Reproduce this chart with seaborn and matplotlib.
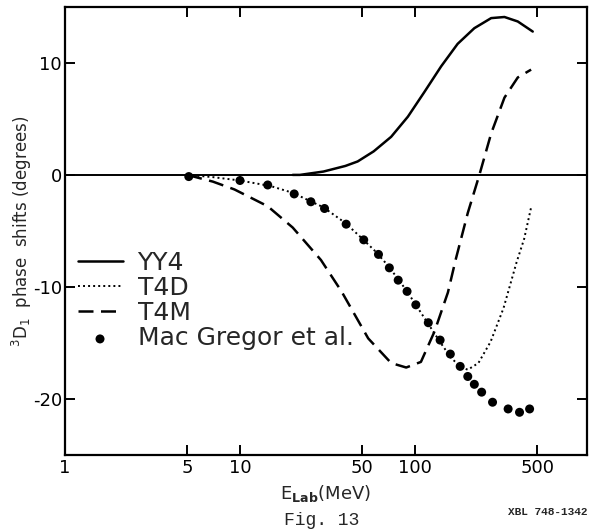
import numpy as np
import pandas as pd
import matplotlib
matplotlib.use('Agg')
import matplotlib.pyplot as plt
import seaborn as sns

# YY4 (solid)
yy4_e = [20, 22, 30, 40, 47, 58, 73, 91, 113, 141, 175, 218, 272, 324, 386, 470]
yy4_d = [0.0, 0.0, 0.3, 0.8, 1.2, 2.1, 3.4, 5.2, 7.4, 9.7, 11.7, 13.1, 14.0, 14.1, 13.7, 12.8]

# T4D (dotted)
t4d_e = [5, 7, 10, 15, 20, 30, 40, 50, 60, 70, 80, 90, 100, 120, 140, 160, 180, 200,
         230, 270, 320, 380, 420, 460]
t4d_d = [0.0, -0.2, -0.5, -1.0, -1.6, -2.9, -4.3, -5.7, -6.9, -8.1, -9.3, -10.4, -11.5,
         -13.4, -15.0, -16.3, -17.1, -17.4, -16.8, -14.9, -11.9, -7.8, -5.7, -2.9]

# T4M (dashed)
t4m_e = [5, 7, 9.3, 14.4, 20, 29, 38, 54, 73, 89, 108, 129, 154, 171, 200, 233, 272,
         324, 386, 460]
t4m_d = [0.0, -0.6, -1.3, -2.8, -4.7, -7.6, -10.4, -14.6, -16.8, -17.2, -16.7, -14.0,
         -10.5, -7.5, -3.4, 0.0, 3.7, 6.9, 8.7, 9.4]

# Mac Gregor et al. (points)
mg_e = [5.1, 10, 14.4, 20.4, 25.4, 30.4, 40.4, 50.9, 61.8, 71.3, 80.1, 90, 101, 119,
        139, 159, 181, 200, 218, 240, 277, 340, 395, 451]
mg_d = [-0.15, -0.5, -0.9, -1.7, -2.4, -3.0, -4.4, -5.8, -7.1, -8.3, -9.4, -10.4, -11.6,
        -13.2, -14.75, -16.0, -17.1, -18.0, -18.7, -19.4, -20.3, -20.9, -21.2, -20.9]

xticks = [1, 5, 10, 50, 100, 500]
xticklabels = ['1', '5', '10', '50', '100', '500']
yticks = [-20, -10, 0, 10]

sns.set_style('ticks')
plt.rcParams['font.family'] = ['DejaVu Sans']
plt.rcParams['axes.unicode_minus'] = False

fig = plt.figure(figsize=(5.9, 5.32), dpi=100)
ax = fig.add_axes([0.110, 0.145, 0.885, 0.842])

ax.axhline(0, color='black', lw=1.4, zorder=1)

sns.lineplot(x=yy4_e, y=yy4_d, ax=ax, color='black', lw=1.8, sort=False,
             label='YY4')
sns.lineplot(x=t4d_e, y=t4d_d, ax=ax, color='black', lw=1.4, sort=False,
             linestyle=(0, (1, 1.6)), label='T4D')
sns.lineplot(x=t4m_e, y=t4m_d, ax=ax, color='black', lw=1.8, sort=False,
             linestyle=(0, (6, 3)), label='T4M')
sns.scatterplot(x=mg_e, y=mg_d, ax=ax, color='black', s=42, edgecolor='none',
                label='Mac Gregor et al.', zorder=3)

ax.set_xscale('log')
ax.set_xlim(1, 960)
ax.set_ylim(-25, 15)
ax.set_xticks(xticks)
ax.set_xticklabels(xticklabels)
ax.xaxis.set_minor_locator(matplotlib.ticker.NullLocator())
ax.set_yticks(yticks)
ax.tick_params(direction='in', length=7, width=1.4, labelsize=13, pad=3,
               top=True, right=True, colors='black')
ax.tick_params(axis='y', pad=2)
for s in ax.spines.values():
    s.set_linewidth(1.6)
    s.set_color('black')

ax.set_xlabel(r'E$_{\mathbf{Lab}}$(MeV)', fontsize=13, labelpad=4)
ax.set_ylabel(r'$^3$D$_1$  phase  shifts (degrees)', fontsize=12, labelpad=-1)

ax.legend(loc='upper left', bbox_to_anchor=(0.005, 0.478), frameon=False,
          fontsize=18, handlelength=1.8, handletextpad=0.6, labelspacing=0.05,
          borderaxespad=0.2, borderpad=0.2)

fig.text(0.545, 0.022, 'Fig. 13', family='Liberation Mono', fontsize=13,
         ha='center', va='center')
fig.text(0.996, 0.038, 'XBL 748-1342', family='Liberation Mono', fontsize=8,
         fontweight='bold', ha='right', va='center')

fig.savefig('out.png', dpi=100)
